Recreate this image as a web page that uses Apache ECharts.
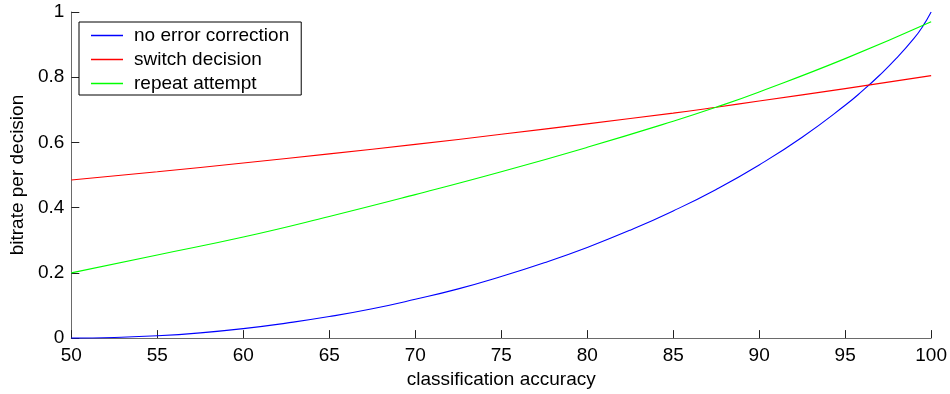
<!DOCTYPE html>
<html><head><meta charset="utf-8">
<script src="https://cdn.jsdelivr.net/npm/echarts@6/dist/echarts.min.js"></script>
<style>html,body{margin:0;padding:0;background:#fff}#c{width:950px;height:394px}</style>
</head><body><div id="c"></div>
<script>
var seriesNames = ['no error correction', 'switch decision', 'repeat attempt'];
var blueX = [50, 52.5, 55, 57.5, 60, 62.5, 65, 67.5, 70, 72.5, 75, 77.5, 80, 82.5, 85, 87.5, 90, 92.5, 95, 96, 97, 98, 99, 99.5, 100];
var blueY = [0, 0.002, 0.007, 0.016, 0.029, 0.046, 0.066, 0.09, 0.119, 0.151, 0.189, 0.231, 0.278, 0.331, 0.39, 0.456, 0.531, 0.616, 0.714, 0.758, 0.806, 0.859, 0.919, 0.955, 1.0];
var redX = [50, 55, 60, 65, 70, 75, 80, 85, 87.5, 90, 95, 100];
var redY = [0.485, 0.51, 0.537, 0.565, 0.594, 0.625, 0.657, 0.69, 0.708, 0.727, 0.765, 0.805];
var greenX = [50, 55, 60, 65, 70, 75, 80, 85, 87.5, 90, 95, 100];
var greenY = [0.2, 0.255, 0.31, 0.373, 0.44, 0.51, 0.585, 0.665, 0.708, 0.755, 0.857, 0.97];

function pairs(xs, ys) { return xs.map(function (x, i) { return [x, ys[i]]; }); }

var font = 'Liberation Sans, Arial, Helvetica, sans-serif';
var fs = 19;
var chart = echarts.init(document.getElementById('c'));
var axisCommon = {
  axisLine: { show: true, lineStyle: { color: '#6a6a6a', width: 1 } },
  axisTick: { show: true, inside: true, length: 8, lineStyle: { color: '#222' } },
  splitLine: { show: false },
  axisLabel: { color: '#000', fontSize: fs, fontFamily: font },
  nameTextStyle: { color: '#000', fontSize: fs, fontFamily: font }
};
chart.setOption({
  animation: false,
  grid: { left: 70, right: 18, top: 12, bottom: 55, containLabel: false },
  xAxis: Object.assign({}, axisCommon, {
    type: 'value', min: 50, max: 100, interval: 5,
    name: 'classification accuracy', nameLocation: 'middle', nameGap: 28,
    axisLabel: Object.assign({}, axisCommon.axisLabel, { margin: 8 })
  }),
  yAxis: Object.assign({}, axisCommon, {
    type: 'value', min: 0, max: 1, interval: 0.2,
    name: 'bitrate per decision', nameLocation: 'middle', nameGap: 43,
    axisLabel: Object.assign({}, axisCommon.axisLabel, { margin: 7 })
  }),
  legend: {
    orient: 'vertical', left: 79, top: 22,
    padding: [4, 12, 2, 12],
    itemGap: 5,
    itemWidth: 32, itemHeight: 1.5,
    icon: 'rect',
    borderColor: '#000', borderWidth: 1,
    backgroundColor: '#fff',
    textStyle: { color: '#000', fontSize: fs, fontFamily: font, padding: [0, 0, 0, 6] },
    data: seriesNames
  },
  series: [
    { name: seriesNames[0], type: 'line', data: pairs(blueX, blueY), smooth: true, showSymbol: false, symbol: 'none', lineStyle: { color: '#0000ff', width: 1.1 }, itemStyle: { color: '#0000ff' } },
    { name: seriesNames[1], type: 'line', data: pairs(redX, redY), smooth: true, showSymbol: false, symbol: 'none', lineStyle: { color: '#ff0000', width: 1.1 }, itemStyle: { color: '#ff0000' } },
    { name: seriesNames[2], type: 'line', data: pairs(greenX, greenY), smooth: true, showSymbol: false, symbol: 'none', lineStyle: { color: '#00ff00', width: 1.1 }, itemStyle: { color: '#00ff00' } }
  ]
});
</script></body></html>
